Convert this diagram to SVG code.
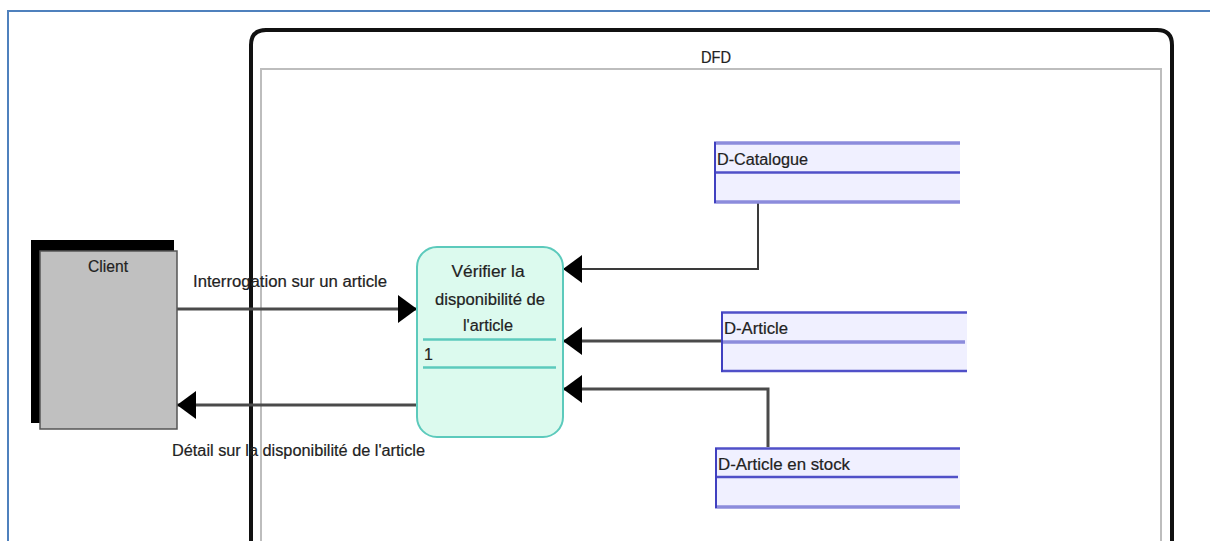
<svg xmlns="http://www.w3.org/2000/svg" width="1210" height="541" viewBox="0 0 1210 541">
<style>
  text { font-family: "Liberation Sans", Arial, sans-serif; font-size: 16px; fill: #222; stroke: #222; stroke-width: 0.2; }
  .flow { fill: none; stroke: #4a4a4a; stroke-width: 3; }
  .flowthin { fill: none; stroke: #3a3a3a; stroke-width: 2; }
  .storefill { fill: #f0f0ff; stroke: none; }
  .storethick { stroke: #8c8cdc; stroke-width: 3.5; }
  .storemid { stroke: #5050c8; stroke-width: 2.5; }
  .storeleft { stroke: #4040c0; stroke-width: 2; }
  .procline { stroke: #5ccabc; stroke-width: 2.5; }
</style>
<defs>
  <marker id="arrow" markerUnits="userSpaceOnUse" markerWidth="20" markerHeight="30" refX="19" refY="14" orient="auto">
    <path d="M0,0 L19,14 L0,28 z" fill="#000"/>
  </marker>
</defs>
<rect x="0" y="0" width="1210" height="541" fill="#ffffff"/>
<g id="page-frame">
  <path d="M8,541 V11 H1210" fill="none" stroke="#4f81bd" stroke-width="2"/>
</g>
<g id="dfd-frame">
  <path d="M251,541 V45 Q251,30 266,30 H1157 Q1172,30 1172,45 V541" fill="none" stroke="#111" stroke-width="4"/>
  <path d="M261,541 V69 H1161 V541" fill="none" stroke="#bdbdbd" stroke-width="2"/>
  <text x="716" y="63" text-anchor="middle" textLength="30" lengthAdjust="spacingAndGlyphs">DFD</text>
</g>
<g id="connectors">
  <path class="flow" d="M177,309 H417" marker-end="url(#arrow)"/>
  <path class="flow" d="M417,405 H177" marker-end="url(#arrow)"/>
  <path class="flowthin" d="M758,202 V269 H563" marker-end="url(#arrow)"/>
  <path class="flow" d="M721,341 H563" marker-end="url(#arrow)"/>
  <path class="flow" d="M768,447 V389 H563" marker-end="url(#arrow)"/>
  <text x="193" y="287" textLength="194" lengthAdjust="spacingAndGlyphs">Interrogation sur un article</text>
  <text x="172" y="456" textLength="253" lengthAdjust="spacingAndGlyphs">Détail sur la disponibilité de l'article</text>
</g>
<g id="client">
  <rect x="31" y="240" width="143" height="183" fill="#000"/>
  <rect x="40" y="251" width="137" height="178" fill="#c0c0c0" stroke="#555" stroke-width="1.5"/>
  <text x="108" y="272" text-anchor="middle" textLength="40" lengthAdjust="spacingAndGlyphs">Client</text>
</g>
<g id="process-1">
  <rect x="417" y="247" width="146" height="190" rx="20" ry="20" fill="#dcfaee" stroke="#5ccabc" stroke-width="2"/>
  <text x="488" y="277" text-anchor="middle" textLength="73" lengthAdjust="spacingAndGlyphs">Vérifier la</text>
  <text x="490" y="305" text-anchor="middle" textLength="110" lengthAdjust="spacingAndGlyphs">disponibilité  de</text>
  <text x="488" y="331" text-anchor="middle" textLength="50" lengthAdjust="spacingAndGlyphs">l'article</text>
  <line class="procline" x1="423" y1="339.5" x2="556" y2="339.5"/>
  <text x="424" y="360">1</text>
  <line class="procline" x1="423" y1="367.5" x2="556" y2="367.5"/>
</g>
<g id="store-catalogue">
  <rect class="storefill" x="714" y="142" width="246" height="60"/>
  <line class="storethick" x1="714" y1="143" x2="960" y2="143"/>
  <line class="storemid" x1="714" y1="172.5" x2="960" y2="172.5"/>
  <line class="storethick" x1="714" y1="202" x2="960" y2="202"/>
  <line class="storeleft" x1="715" y1="142" x2="715" y2="203"/>
  <text x="717" y="165" textLength="91" lengthAdjust="spacingAndGlyphs">D-Catalogue</text>
</g>
<g id="store-article">
  <rect class="storefill" x="721" y="312" width="246" height="59"/>
  <line class="storemid" x1="721" y1="312.5" x2="967" y2="312.5"/>
  <line class="storethick" x1="721" y1="342" x2="965" y2="342"/>
  <line class="storemid" x1="721" y1="371" x2="967" y2="371"/>
  <line class="storeleft" x1="722" y1="312" x2="722" y2="372"/>
  <text x="724" y="334" textLength="64" lengthAdjust="spacingAndGlyphs">D-Article</text>
</g>
<g id="store-article-stock">
  <rect class="storefill" x="715" y="448" width="245" height="60"/>
  <line class="storemid" x1="715" y1="448.5" x2="960" y2="448.5"/>
  <line class="storemid" x1="715" y1="477" x2="958" y2="477"/>
  <line class="storethick" x1="715" y1="507" x2="960" y2="507"/>
  <line class="storeleft" x1="716" y1="448" x2="716" y2="508"/>
  <text x="718" y="470" textLength="132" lengthAdjust="spacingAndGlyphs">D-Article en stock</text>
</g>
</svg>
